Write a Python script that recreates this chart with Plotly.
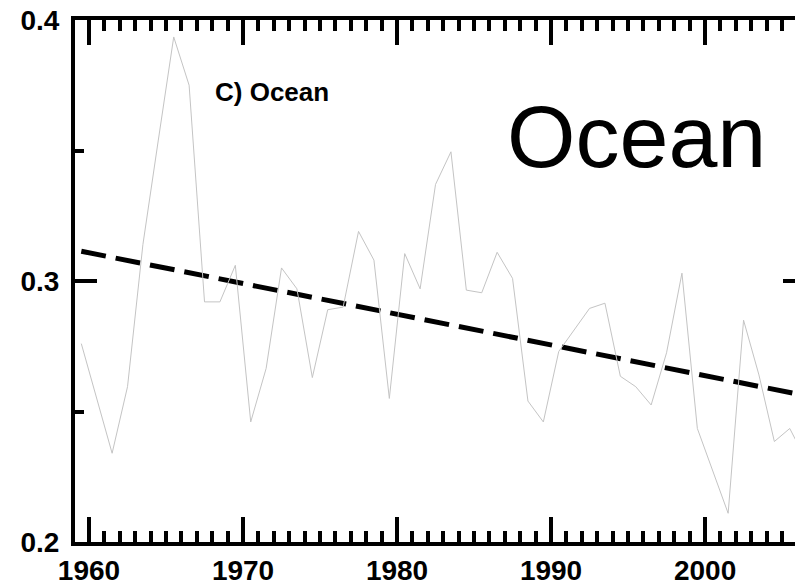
import plotly.graph_objects as go

years = [1959.5, 1960.5, 1961.5, 1962.5, 1963.5, 1964.5, 1965.5, 1966.5, 1967.5, 1968.5,
         1969.5, 1970.5, 1971.5, 1972.5, 1973.5, 1974.5, 1975.5, 1976.5, 1977.5, 1978.5,
         1979.5, 1980.5, 1981.5, 1982.5, 1983.5, 1984.5, 1985.5, 1986.5, 1987.5, 1988.5,
         1989.5, 1990.5, 1991.5, 1992.5, 1993.5, 1994.5, 1995.5, 1996.5, 1997.5, 1998.5,
         1999.5, 2000.5, 2001.5, 2002.5, 2003.5, 2004.5, 2005.5, 2006.5]
values = [0.276, 0.255, 0.234, 0.2595, 0.314, 0.354, 0.3935, 0.375, 0.292, 0.292,
          0.306, 0.246, 0.2665, 0.305, 0.297, 0.263, 0.289, 0.290, 0.319, 0.308,
          0.255, 0.3105, 0.297, 0.337, 0.3495, 0.2965, 0.2955, 0.311, 0.301, 0.254,
          0.246, 0.273, 0.2815, 0.2895, 0.2915, 0.2635, 0.2595, 0.2525, 0.2725, 0.303,
          0.2435, 0.227, 0.211, 0.285, 0.264, 0.2385, 0.2435, 0.232]
trend_years = [1959.5, 2006.5]
trend_values = [0.3114, 0.2561]

x_range = [1959.09, 2006.36]
y_range = [0.2, 0.4]

FONT = "Liberation Sans, Arial, sans-serif"

fig = go.Figure()
fig.add_trace(go.Scatter(x=years, y=values, mode="lines",
                         line=dict(color="#c4c4c4", width=1), yaxis="y2",
                         showlegend=False, hoverinfo="skip"))
fig.add_trace(go.Scatter(x=trend_years, y=trend_values, mode="lines",
                         line=dict(color="black", width=5, dash="25px,10px"),
                         showlegend=False, hoverinfo="skip"))

fig.update_layout(
    template="none",
    width=795, height=577,
    margin=dict(l=67, r=0, t=12, b=43, pad=0),
    paper_bgcolor="white", plot_bgcolor="white",
    font=dict(family=FONT, color="black"),
    xaxis=dict(range=x_range, automargin=False, showline=True, linewidth=4, linecolor="black",
               mirror="ticks", ticks="inside", ticklen=25, tickwidth=4, tickcolor="black",
               tick0=1960, dtick=10, showgrid=False, zeroline=False,
               ticklabeloverflow="allow",
               minor=dict(ticks="inside", ticklen=11, tickwidth=4, tickcolor="black",
                          tick0=1960, dtick=1, showgrid=False),
               tickfont=dict(family=FONT, size=28, weight="bold", color="black")),
    yaxis=dict(range=y_range, automargin=False, showline=True, linewidth=4, linecolor="black",
               ticks="inside", ticklen=22, tickwidth=4, tickcolor="black",
               tick0=0.2, dtick=0.1, tickformat=".1f", showgrid=False, zeroline=False,
               ticklabeloverflow="allow",
               minor=dict(ticks="inside", ticklen=9, tickwidth=4, tickcolor="black",
                          tick0=0.2, dtick=0.05, showgrid=False),
               ticklabelstandoff=6,
               tickfont=dict(family=FONT, size=28, weight="bold", color="black")),
    yaxis2=dict(range=y_range, automargin=False, overlaying="y", side="right", anchor="x",
                showline=False, ticks="inside", ticklen=20, tickwidth=4, tickcolor="black",
                tick0=0.2, dtick=0.1, showticklabels=False, showgrid=False, zeroline=False,
                minor=dict(ticks="inside", ticklen=8, tickwidth=4, tickcolor="black",
                           tick0=0.2, dtick=0.05, showgrid=False)),
    annotations=[
        dict(x=1968.05, y=0.3725, xref="x", yref="y", xanchor="left", yanchor="middle",
             text="C) Ocean", showarrow=False,
             font=dict(family=FONT, size=26, weight="bold", color="black")),
        dict(x=1987.0, y=0.3555, xref="x", yref="y", xanchor="left", yanchor="middle",
             text="Ocean", showarrow=False,
             font=dict(family=FONT, size=88, color="black")),
    ],
)

fig.write_html("out.html")
